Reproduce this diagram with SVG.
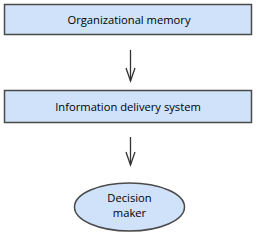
<svg xmlns="http://www.w3.org/2000/svg" width="258" height="234" viewBox="0 0 258 234">
<style>
.box{fill:#cfe2fa;stroke:#4a4a4a;stroke-width:1.5}
.t{font-family:"Open Sans","Noto Sans",sans-serif;font-size:11.2px;fill:#000;text-anchor:middle}
.c{stroke:#333;stroke-width:1.3;fill:none}
</style>
<defs>
<marker id="ah" viewBox="-14 -6 16 12" refX="0" refY="0" markerWidth="16" markerHeight="12" markerUnits="userSpaceOnUse" orient="auto">
<path d="M-13,-4.5 L0,0 L-13,4.5" fill="none" stroke="#333" stroke-width="1.3"/>
</marker>
</defs>
<g id="connectors">
<line class="c" x1="130.5" y1="50" x2="130.5" y2="81" marker-end="url(#ah)"/>
<line class="c" x1="130.5" y1="137" x2="130.5" y2="165" marker-end="url(#ah)"/>
</g>
<g id="org-memory">
<rect class="box" x="4.5" y="4.5" width="247" height="30"/>
<text class="t" x="129" y="23.5">Organizational memory</text>
</g>
<g id="info-delivery">
<rect class="box" x="4.5" y="90.5" width="247" height="32"/>
<text class="t" x="128" y="110.5">Information delivery system</text>
</g>
<g id="decision-maker">
<ellipse class="box" cx="129.5" cy="207" rx="55" ry="24"/>
<text class="t" x="129.5" y="202">Decision</text>
<text class="t" x="129.5" y="216.5">maker</text>
</g>
</svg>
